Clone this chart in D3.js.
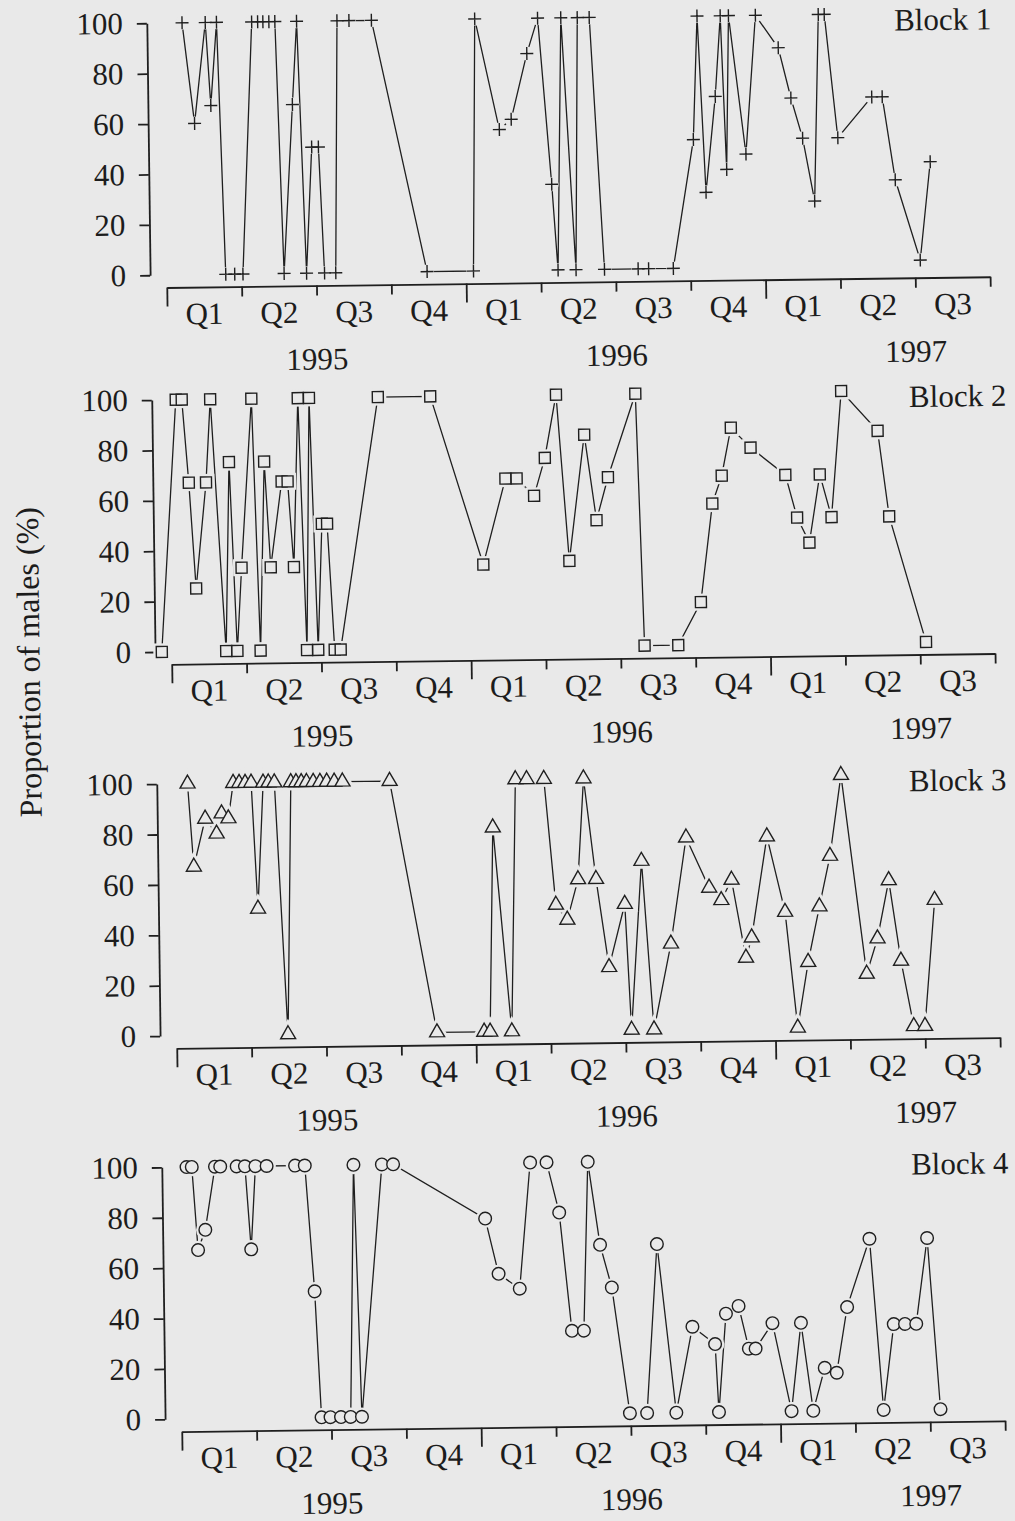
<!DOCTYPE html>
<html>
<head>
<meta charset="utf-8">
<script src="https://cdn.jsdelivr.net/npm/d3@7"></script>
<style>
  html, body { margin: 0; padding: 0; background: #e9e9e9; }
  svg { display: block; }
  text { font-family: "Liberation Serif", "Times New Roman", serif; fill: #1c1c1c; }
</style>
</head>
<body>
<svg id="chart" width="1015" height="1521"></svg>
<script>
// ---- data: sampling time (in quarters from Jan 1995) and % males per sample ----
const quarterLabels = ["Q1", "Q2", "Q3", "Q4", "Q1", "Q2", "Q3", "Q4", "Q1", "Q2", "Q3"];
const yearLabels = [["1995", 2], ["1996", 6], ["1997", 10]];
const yTicks = [0, 20, 40, 60, 80, 100];
const blockNames = ["Block 1", "Block 2", "Block 3", "Block 4"];

const block1 = [
  [0.25,100],[0.40,60],[0.56,100],[0.62,67],[0.71,100],[0.79,0],[0.91,0],[1.02,0],
  [1.18,100],[1.26,100],[1.33,100],[1.41,100],[1.49,100],[1.57,0],[1.71,67],[1.78,100],
  [1.87,0],[1.96,50],[2.05,50],[2.11,0],[2.26,0],[2.32,100],[2.48,100],[2.78,100],
  [3.48,0],[4.10,0],[4.16,100],[4.47,56],[4.63,60],[4.85,86],[5.00,100],[5.16,34],
  [5.23,0],[5.31,100],[5.47,0],[5.53,100],[5.69,100],[5.85,0],[6.30,0],[6.44,0],
  [6.77,0],[7.06,51],[7.13,100],[7.22,30],[7.36,68],[7.44,100],[7.50,39],[7.55,100],
  [7.76,45],[7.91,100],[8.21,87],[8.37,67],[8.52,51],[8.67,26],[8.75,100],[8.83,100],
  [8.99,51],[9.45,67],[9.59,67],[9.75,34],[10.07,2],[10.22,41]
];
const block2 = [
  [-0.13,0],[0.10,100],[0.18,100],[0.26,67],[0.34,25],[0.49,67],[0.56,100],[0.73,0],
  [0.80,75],[0.88,0],[0.95,33],[1.11,100],[1.19,0],[1.27,75],[1.34,33],[1.50,67],
  [1.58,67],[1.65,33],[1.73,100],[1.81,0],[1.88,100],[1.96,0],[2.03,50],[2.10,50],
  [2.18,0],[2.26,0],[2.80,100],[3.50,100],[4.18,33],[4.49,67],[4.64,67],[4.87,60],
  [5.02,75],[5.18,100],[5.33,34],[5.55,84],[5.70,50],[5.86,67],[6.24,100],[6.32,0],
  [6.77,0],[7.08,17],[7.25,56],[7.38,67],[7.51,86],[7.77,78],[8.23,67],[8.38,50],
  [8.54,40],[8.69,67],[8.84,50],[8.99,100],[9.47,84],[9.61,50],[10.08,0]
];
const block3 = [
  [0.19,100],[0.26,67],[0.42,86],[0.57,80],[0.64,88],[0.73,86],[0.80,100],[0.88,100],
  [0.96,100],[1.04,100],[1.11,50],[1.20,100],[1.27,100],[1.35,100],[1.49,0],[1.57,100],
  [1.64,100],[1.71,100],[1.78,100],[1.87,100],[1.96,100],[2.05,100],[2.15,100],[2.26,100],
  [2.89,100],[3.48,0],[4.11,0],[4.19,0],[4.26,81],[4.48,0],[4.57,100],[4.72,100],
  [4.95,100],[5.09,50],[5.24,44],[5.39,60],[5.48,100],[5.63,60],[5.79,25],[6.01,50],
  [6.08,0],[6.24,67],[6.38,0],[6.62,34],[6.84,76],[7.14,56],[7.30,51],[7.44,59],
  [7.62,28],[7.70,36],[7.92,76],[8.15,46],[8.30,0],[8.45,26],[8.61,48],[8.76,68],
  [8.92,100],[9.23,21],[9.38,35],[9.54,58],[9.69,26],[9.85,0],[10.00,0],[10.15,50]
];
const block4 = [
  [0.11,100],[0.18,100],[0.25,67],[0.35,75],[0.49,100],[0.56,100],[0.78,100],[0.89,100],
  [0.96,67],[1.03,100],[1.18,100],[1.56,100],[1.69,100],[1.80,50],[1.87,0],[1.99,0],
  [2.13,0],[2.26,0],[2.34,100],[2.41,0],[2.72,100],[2.87,100],[4.09,78],[4.26,56],
  [4.54,50],[4.70,100],[4.92,100],[5.08,80],[5.23,33],[5.39,33],[5.47,100],[5.62,67],
  [5.77,50],[5.99,0],[6.22,0],[6.38,67],[6.61,0],[6.84,34],[7.14,27],[7.18,0],
  [7.29,39],[7.46,42],[7.59,25],[7.68,25],[7.91,35],[8.15,0],[8.29,35],[8.44,0],
  [8.60,17],[8.76,15],[8.91,41],[9.22,68],[9.38,0],[9.53,34],[9.68,34],[9.83,34],
  [9.99,68],[10.14,0]
];

// ---- layout ----
const W = 1015, H = 1521;
const BG = "#e9e9e9", INK = "#1f1f1f";
const TILT = -0.75;
const FONT = 31;
const plotH = 252;
const panelTops = [18.6, 395.4, 779.5, 1162.8];
const labelRight = [1001, 1011, 1006, 1003];
const axisGap = 12.5;
const yAxisX = 156.5;

const x = d3.scaleLinear().domain([0, 11]).range([173, 996.4]);

const crossPath = "M-6.5,0H6.5M0,-6.5V6.5";
const markers = [
  { path: crossPath, knock: "circle" },
  { path: d3.symbol(d3.symbolSquare, 121)(), knock: 6 },
  { path: d3.symbol(d3.symbolTriangle, 97)(), knock: 7 },
  { path: d3.symbol(d3.symbolCircle, 125)(), knock: 6 }
];
const series = [block1, block2, block3, block4];

const svg = d3.select("#chart");
svg.append("rect").attr("width", W).attr("height", H).attr("fill", BG);
const root = svg.append("g").attr("transform", `rotate(${TILT} ${W / 2} ${H / 2})`);

series.forEach((data, i) => {
  const top = panelTops[i];
  const y = d3.scaleLinear().domain([0, 100]).range([top + plotH, top]);
  const axisY = top + plotH + axisGap;
  const g = root.append("g");

  // y axis
  const ya = g.append("g")
    .attr("transform", `translate(${yAxisX},0)`)
    .call(d3.axisLeft(y).tickValues(yTicks).tickSize(10).tickPadding(14).tickSizeOuter(0));
  ya.select(".domain").attr("stroke", INK).attr("stroke-width", 1.8);
  ya.selectAll(".tick line").attr("stroke", INK).attr("stroke-width", 1.8);
  ya.selectAll(".tick text").attr("font-size", FONT)
    .attr("font-family", '"Liberation Serif", serif').attr("fill", INK);

  // x axis: quarter ticks, longer at year boundaries
  const xa = g.append("g")
    .attr("transform", `translate(0,${axisY})`)
    .call(d3.axisBottom(x).tickValues(d3.range(12)).tickFormat("").tickSizeOuter(0));
  xa.select(".domain").attr("stroke", INK).attr("stroke-width", 1.8);
  xa.selectAll(".tick line").attr("stroke", INK).attr("stroke-width", 1.8)
    .attr("y2", d => (d % 4 === 0 ? 19 : 10));

  g.append("g").selectAll("text").data(quarterLabels).join("text")
    .attr("x", (d, k) => x(k + 0.5))
    .attr("y", axisY + 37)
    .attr("text-anchor", "middle")
    .attr("font-size", FONT)
    .text(d => d);

  g.append("g").selectAll("text").data(yearLabels).join("text")
    .attr("x", d => x(d[1]))
    .attr("y", axisY + 84)
    .attr("text-anchor", "middle")
    .attr("font-size", FONT)
    .text(d => d[0]);

  g.append("text")
    .attr("x", labelRight[i])
    .attr("y", top + 17)
    .attr("text-anchor", "end")
    .attr("font-size", FONT)
    .text(blockNames[i]);

  // connecting line
  const line = d3.line().x(d => x(d[0])).y(d => y(d[1]));
  g.append("path").datum(data).attr("d", line)
    .attr("fill", "none").attr("stroke", INK).attr("stroke-width", 1.3)
    .attr("stroke-linejoin", "miter");

  // gaps where the line meets each marker
  const m = markers[i];
  const knock = g.append("g");
  if (m.knock === "circle") {
    knock.selectAll("circle").data(data).join("circle")
      .attr("cx", d => x(d[0])).attr("cy", d => y(d[1])).attr("r", 7).attr("fill", BG);
  } else {
    knock.selectAll("path").data(data).join("path")
      .attr("d", m.path)
      .attr("transform", d => `translate(${x(d[0])},${y(d[1])})`)
      .attr("fill", BG).attr("stroke", BG).attr("stroke-width", m.knock);
  }

  // markers
  g.append("g").selectAll("path").data(data).join("path")
    .attr("d", m.path)
    .attr("transform", d => `translate(${x(d[0])},${y(d[1])})`)
    .attr("fill", i === 0 ? "none" : BG)
    .attr("stroke", INK).attr("stroke-width", 1.4);
});

// shared y title
root.append("text")
  .attr("transform", "translate(41,656) rotate(-90)")
  .attr("text-anchor", "middle")
  .attr("font-size", 32)
  .text("Proportion of males (%)");
</script>
</body>
</html>
